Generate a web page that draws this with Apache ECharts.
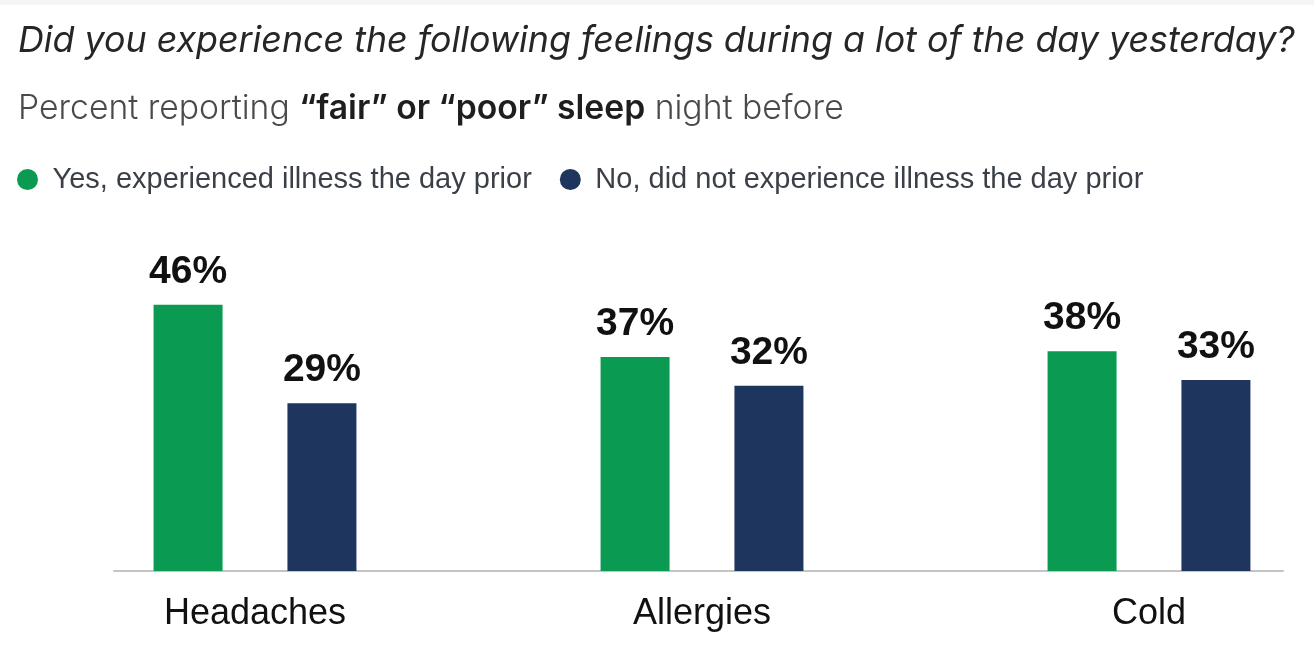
<!DOCTYPE html>
<html>
<head>
<meta charset="utf-8">
<script src="https://cdn.jsdelivr.net/npm/echarts@6/dist/echarts.min.js"></script>
<style>
  html, body { margin: 0; padding: 0; background: #ffffff; }
  #chart { width: 1314px; height: 650px; }
</style>
</head>
<body>
<div id="chart"></div>
<script>
const categories = ['Headaches', 'Allergies', 'Cold'];
const seriesNames = ['Yes, experienced illness the day prior', 'No, did not experience illness the day prior'];
const yesValues = [46, 37, 38];
const noValues = [29, 32, 33];

const chart = echarts.init(document.getElementById('chart'), null, { renderer: 'canvas' });

const labelStyle = {
  show: true,
  position: 'top',
  distance: 13,
  formatter: '{c}%',
  fontFamily: 'Liberation Sans, Arial, sans-serif',
  fontWeight: 'bold',
  fontSize: 39,
  color: '#111111'
};

const option = {
  backgroundColor: '#ffffff',
  animation: false,
  graphic: [
    { type: 'rect', left: 0, top: 0, shape: { width: 1314, height: 5 }, style: { fill: '#f4f5f7' }, silent: true }
  ],
  title: [
    {
      text: 'Did you experience the following feelings during a lot of the day yesterday?',
      left: 13,
      top: 18.5,
      textStyle: {
        fontFamily: 'Inter, Roboto, sans-serif',
        fontStyle: 'italic',
        fontWeight: 400,
        fontSize: 35.8,
        color: '#262626'
      }
    },
    {
      text: '{l|Percent reporting }{b|\u201cfair\u201d or \u201cpoor\u201d sleep}{l| night before}',
      left: 13,
      top: 87,
      textStyle: {
        rich: {
          l: { fontFamily: 'Inter, Roboto, sans-serif', fontWeight: 300, fontSize: 33.7, color: '#4a4a4a' },
          b: { fontFamily: 'Inter, Roboto, sans-serif', fontWeight: 600, fontSize: 33.7, color: '#1e1e1e' }
        }
      }
    }
  ],
  legend: {
    left: 12,
    top: 160,
    icon: 'circle',
    itemWidth: 40,
    itemHeight: 21,
    itemGap: 28,
    textStyle: {
      fontFamily: 'Liberation Sans, Arial, sans-serif',
      fontSize: 29,
      color: '#3a3f48'
    },
    data: seriesNames
  },
  grid: [
    { left: 255, right: 165, top: 281.7, bottom: 79, containLabel: false },
    { left: 114, right: 31, top: 281.7, bottom: 79, containLabel: false }
  ],
  xAxis: [
    {
      type: 'category',
      gridIndex: 0,
      data: categories,
      boundaryGap: false,
      axisLine: { show: false },
      axisTick: { show: false },
      axisLabel: {
        margin: 25,
        fontFamily: 'Liberation Sans, Arial, sans-serif',
        fontSize: 36,
        color: '#111111'
      }
    },
    {
      type: 'value',
      gridIndex: 1,
      min: 0,
      max: 1,
      axisLine: { show: true, lineStyle: { color: '#c4c4c4', width: 2 } },
      axisTick: { show: false },
      axisLabel: { show: false },
      splitLine: { show: false }
    }
  ],
  yAxis: [
    { type: 'value', gridIndex: 0, min: 0, max: 50, show: false, splitLine: { show: false } },
    { type: 'value', gridIndex: 1, min: 0, max: 1, show: false, splitLine: { show: false } }
  ],
  series: [
    {
      name: seriesNames[0],
      type: 'bar',
      xAxisIndex: 0,
      yAxisIndex: 0,
      data: yesValues,
      barWidth: 69,
      barGap: '94%',
      clip: false,
      itemStyle: { color: '#0a9a51' },
      label: labelStyle
    },
    {
      name: seriesNames[1],
      type: 'bar',
      xAxisIndex: 0,
      yAxisIndex: 0,
      data: noValues,
      barWidth: 69,
      barGap: '94%',
      clip: false,
      itemStyle: { color: '#1e355e' },
      label: labelStyle
    }
  ]
};

chart.setOption(option);
</script>
</body>
</html>
